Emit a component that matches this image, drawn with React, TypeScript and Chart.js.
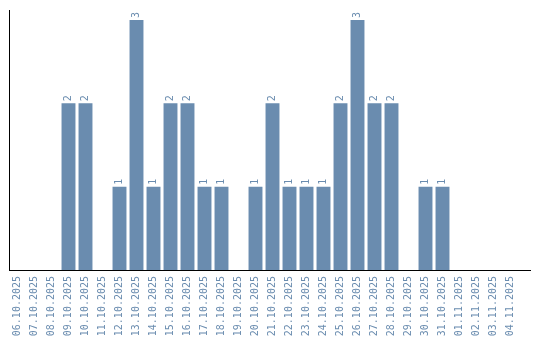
import React, { useEffect, useRef } from "react";
import { Chart, registerables } from "chart.js";

Chart.register(...registerables);

const categories = [
  "06.10.2025", "07.10.2025", "08.10.2025", "09.10.2025", "10.10.2025",
  "11.10.2025", "12.10.2025", "13.10.2025", "14.10.2025", "15.10.2025",
  "16.10.2025", "17.10.2025", "18.10.2025", "19.10.2025", "20.10.2025",
  "21.10.2025", "22.10.2025", "23.10.2025", "24.10.2025", "25.10.2025",
  "26.10.2025", "27.10.2025", "28.10.2025", "29.10.2025", "30.10.2025",
  "31.10.2025", "01.11.2025", "02.11.2025", "03.11.2025", "04.11.2025",
];

const counts = [
  0, 0, 0, 2, 2, 0, 1, 3, 1, 2, 2, 1, 1, 0, 1, 2, 1, 1, 1, 2, 3, 2, 2, 0, 1, 1, 0, 0, 0, 0,
];

const BAR_COLOR = "#6a8caf";
const FONT = "DejaVu Sans Mono";

const valueLabels = {
  id: "valueLabels",
  afterDatasetsDraw(chart: any) {
    const ctx = chart.ctx;
    const meta = chart.getDatasetMeta(0);
    ctx.save();
    ctx.fillStyle = BAR_COLOR;
    ctx.font = `10px "${FONT}"`;
    ctx.textAlign = "left";
    ctx.textBaseline = "middle";
    meta.data.forEach((bar: any, i: number) => {
      const v = counts[i];
      if (!v) return;
      ctx.save();
      ctx.translate(bar.x, bar.y - 2);
      ctx.rotate(-Math.PI / 2);
      ctx.fillText(String(v), 0, 0);
      ctx.restore();
    });
    ctx.restore();
  },
  afterDraw(chart: any) {
    const { ctx, chartArea } = chart;
    ctx.save();
    ctx.strokeStyle = "#000";
    ctx.lineWidth = 1;
    ctx.beginPath();
    ctx.moveTo(chartArea.right, chartArea.bottom + 0.5);
    ctx.lineTo(chartArea.right + 12, chartArea.bottom + 0.5);
    ctx.stroke();
    ctx.restore();
  },
};

export default function App() {
  const ref = useRef<HTMLCanvasElement | null>(null);
  useEffect(() => {
    if (!ref.current) return;
    const chart = new Chart(ref.current, {
      type: "bar",
      data: {
        labels: categories,
        datasets: [
          {
            data: counts,
            backgroundColor: BAR_COLOR,
            barPercentage: 0.9,
            categoryPercentage: 0.91,
          },
        ],
      },
      options: {
        animation: false,
        responsive: true,
        maintainAspectRatio: false,
        layout: { padding: { top: 10, right: 21, bottom: 0, left: 0 } },
        plugins: {
          legend: { display: false },
          tooltip: { enabled: false },
        },
        scales: {
          x: {
            grid: { display: false, drawTicks: false },
            border: { display: true, color: "#000", width: 1 },
            ticks: {
              color: BAR_COLOR,
              font: { family: FONT, size: 10 },
              minRotation: 90,
              maxRotation: 90,
              autoSkip: false,
              padding: 6,
            },
            afterFit: (scale: any) => {
              scale.height = 70;
            },
          },
          y: {
            min: 0,
            max: 3.12,
            grid: { display: false, drawTicks: false },
            border: { display: true, color: "#000", width: 1 },
            ticks: { display: false },
            afterFit: (scale: any) => {
              scale.width = 9;
            },
          },
        },
      },
      plugins: [valueLabels],
    });
    return () => chart.destroy();
  }, []);
  return (
    <div style={{ position: "fixed", left: 0, top: 0, width: 540, height: 340, background: "#fff" }}>
      <canvas ref={ref} />
    </div>
  );
}
